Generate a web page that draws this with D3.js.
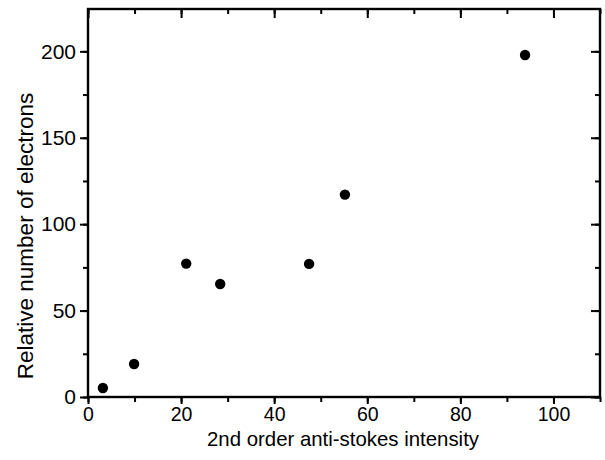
<!DOCTYPE html>
<html><head><meta charset="utf-8">
<script src="https://cdn.jsdelivr.net/npm/d3@7"></script>
<style>body{margin:0;background:#fff}svg{display:block}text{font-family:"Liberation Sans",Arial,sans-serif;fill:#000}</style>
</head><body>
<svg id="c" width="605" height="460"></svg>
<script>
const xValues = [3.2, 9.9, 21.1, 28.4, 47.5, 55.2, 93.9];
const yValues = [5.2, 19.1, 77.2, 65.4, 77.0, 117.1, 197.9];
const xTicks = [0, 20, 40, 60, 80, 100];
const yTicks = [0, 50, 100, 150, 200];
const xTitle = "2nd order anti-stokes intensity";
const yTitle = "Relative number of electrons";

const L = 88, R = 600, T = 9, B = 397;
const svg = d3.select("#c");
const x = d3.scaleLinear().domain([0, 110]).range([L, R]);
const y = d3.scaleLinear().domain([0, 224.5]).range([B, T]);

const xMinor = d3.range(0, 111, 10);
const yMinor = d3.range(0, 225, 25);

function styleAxis(fs){
  return g => {
    g.select(".domain").remove();
    g.selectAll("line").attr("stroke","#000").attr("stroke-width",2);
    g.selectAll("text").style("font-size",fs+"px").style("font-family","Liberation Sans, Arial, sans-serif");
  };
}
// bottom
svg.append("g").attr("transform",`translate(0,${B})`)
  .call(d3.axisBottom(x).tickValues(xMinor).tickSize(5).tickFormat(""))
  .call(styleAxis(19.5));
svg.append("g").attr("transform",`translate(0,${B})`)
  .call(d3.axisBottom(x).tickValues(xTicks).tickSize(7).tickPadding(3).tickFormat(d3.format("d")))
  .call(styleAxis(19.5));
// left
svg.append("g").attr("transform",`translate(${L},0)`)
  .call(d3.axisLeft(y).tickValues(yMinor).tickSize(5).tickFormat(""))
  .call(styleAxis(21));
svg.append("g").attr("transform",`translate(${L},0)`)
  .call(d3.axisLeft(y).tickValues(yTicks).tickSize(8).tickPadding(4).tickFormat(d3.format("d")))
  .call(styleAxis(21));
// top (inward)
svg.append("g").attr("transform",`translate(0,${T})`)
  .call(d3.axisBottom(x).tickValues(xMinor).tickSize(5).tickFormat(""))
  .call(styleAxis(20));
svg.append("g").attr("transform",`translate(0,${T})`)
  .call(d3.axisBottom(x).tickValues(xTicks).tickSize(9).tickFormat(""))
  .call(styleAxis(20));
// right (inward)
svg.append("g").attr("transform",`translate(${R},0)`)
  .call(d3.axisLeft(y).tickValues(yMinor).tickSize(5).tickFormat(""))
  .call(styleAxis(20));
svg.append("g").attr("transform",`translate(${R},0)`)
  .call(d3.axisLeft(y).tickValues(yTicks).tickSize(9).tickFormat(""))
  .call(styleAxis(20));

// frame
svg.append("rect").attr("x",L).attr("y",T).attr("width",R-L).attr("height",B-T)
  .attr("fill","none").attr("stroke","#000").attr("stroke-width",2.4);

// points
svg.append("g").selectAll("circle").data(xValues.map((v,i)=>[v,yValues[i]])).join("circle")
  .attr("cx",d=>x(d[0])).attr("cy",d=>y(d[1])).attr("r",5.2).attr("fill","#000");

// titles
svg.append("text").attr("x",343).attr("y",446).attr("text-anchor","middle")
  .style("font-size","20.4px").text(xTitle);
svg.append("text").attr("transform","translate(33,236) rotate(-90)").attr("text-anchor","middle")
  .style("font-size","22.5px").text(yTitle);
</script>
</body></html>
